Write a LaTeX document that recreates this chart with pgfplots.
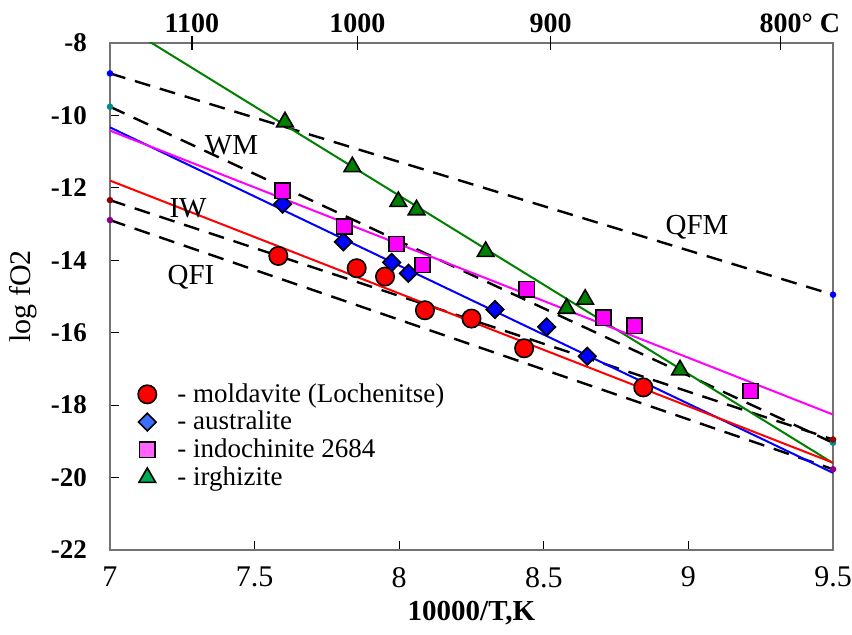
\documentclass[border=0pt]{standalone}
\usepackage{pgfplots}
\pgfplotsset{compat=1.18}
\usepackage{fontspec}
\setmainfont{Liberation Serif}
\definecolor{fitgreen}{RGB}{0,128,0}
\definecolor{fullmag}{RGB}{255,0,255}
\definecolor{fullblue}{RGB}{0,0,255}
\definecolor{fullred}{RGB}{255,0,0}
\definecolor{legblue}{RGB}{60,110,255}
\definecolor{legmag}{RGB}{255,100,255}
\definecolor{leggreen}{RGB}{0,170,80}
\definecolor{dotteal}{RGB}{0,140,140}
\definecolor{dotred}{RGB}{140,0,0}
\definecolor{dotpurple}{RGB}{140,0,140}
\begin{document}
\begin{tikzpicture}
\useasboundingbox (-55pt,-42.5pt) rectangle (371pt,275pt);
\begin{axis}[
  scale only axis, width=361.5pt, height=253.5pt,
  xmin=7, xmax=9.5, ymin=-22, ymax=-8,
  xtick={7,7.5,8,8.5,9,9.5}, xticklabels={7,7.5,8,8.5,9,9.5},
  ytick={-22,-20,-18,-16,-14,-12,-10,-8},
  yticklabels={-22,-20,-18,-16,-14,-12,-10,-8},
  xtick pos=bottom, ytick pos=left, tick align=inside,
  major tick length=4.5pt,
  tick style={black, line width=0.6pt},
  axis line style={black!55, line width=0.9pt},
  xticklabel style={font=\fontsize{15}{16}\selectfont, yshift=-5pt},
  yticklabel style={font=\bfseries\fontsize{13.5}{14}\selectfont, xshift=-8pt},
  xlabel={\textbf{10000/T,K}}, xlabel style={font=\fontsize{14.5}{16}\selectfont},
  ylabel={log fO2}, ylabel style={font=\fontsize{15}{16}\selectfont},
  legend style={at={(0.03,0.345)}, anchor=north west, draw=none, fill=none,
    font=\fontsize{13.5}{15}\selectfont, row sep=-1pt},
  legend cell align=left,
]
% legend entries
\addlegendimage{only marks, mark=*, mark size=4.6pt, mark options={fill=fullred, draw=black, line width=0.8pt}}
\addlegendentry{\hspace{8.5pt}- moldavite (Lochenitse)}
\addlegendimage{only marks, mark=square*, mark size=3.1pt, mark options={rotate=45, fill=legblue, draw=black, line width=0.8pt}}
\addlegendentry{\hspace{8.5pt}- australite}
\addlegendimage{only marks, mark=square*, mark size=3.8pt, mark options={fill=legmag, draw=black, line width=0.8pt}}
\addlegendentry{\hspace{8.5pt}- indochinite 2684}
\addlegendimage{only marks, mark=triangle*, mark size=4.8pt, mark options={fill=leggreen, draw=black, line width=0.8pt}}
\addlegendentry{\hspace{8.5pt}- irghizite}

% buffer lines (dashed)
\addplot[forget plot, black, line width=1.2pt, dash pattern=on 8pt off 5pt, mark=*, mark size=1pt, mark options={solid, fullblue, draw=fullblue}] coordinates {(7,-8.84) (9.5,-14.95)};
\addplot[forget plot, black, line width=1.2pt, dash pattern=on 8pt off 5pt, mark=*, mark size=1pt, mark options={solid, dotteal, draw=dotteal}] coordinates {(7,-9.76) (9.5,-19.04)};
\addplot[forget plot, black, line width=1.2pt, dash pattern=on 8pt off 5pt, mark=*, mark size=1pt, mark options={solid, dotred, draw=dotred}] coordinates {(7,-12.34) (9.5,-18.95)};
\addplot[forget plot, black, line width=1.2pt, dash pattern=on 8pt off 5pt, mark=*, mark size=1pt, mark options={solid, dotpurple, draw=dotpurple}] coordinates {(7,-12.89) (9.5,-19.77)};

% fit lines
\addplot[forget plot, fitgreen, line width=1pt] coordinates {(7,-7.29) (9.5,-19.60)};
\addplot[forget plot, fullblue, line width=1pt] coordinates {(7,-10.33) (9.5,-19.87)};
\addplot[forget plot, fullmag, line width=1pt] coordinates {(7,-10.42) (9.5,-18.26)};
\addplot[forget plot, fullred, line width=1pt] coordinates {(7,-11.80) (9.5,-19.59)};

% data points
\addplot[forget plot, only marks, mark=*, mark size=4.6pt, mark options={fill=fullred, draw=black, line width=0.8pt}] coordinates {
(7.582,-13.88) (7.853,-14.22) (7.951,-14.45) (8.089,-15.38) (8.250,-15.61) (8.432,-16.43) (8.844,-17.51)};
\addplot[forget plot, only marks, mark=square*, mark size=3.1pt, mark options={rotate=45, fill=fullblue, draw=black, line width=0.8pt}] coordinates {
(7.597,-12.45) (7.807,-13.49) (7.974,-14.06) (8.032,-14.36) (8.331,-15.36) (8.510,-15.84) (8.650,-16.65)};
\addplot[forget plot, only marks, mark=square*, mark size=3.8pt, mark options={fill=fullmag, draw=black, line width=0.8pt}] coordinates {
(7.597,-12.08) (7.810,-13.07) (7.991,-13.55) (8.081,-14.13) (8.441,-14.80) (8.706,-15.59) (8.813,-15.81) (9.215,-17.61)};
\addplot[forget plot, only marks, mark=triangle*, mark size=4.8pt, mark options={fill=fitgreen, draw=black, line width=0.8pt}] coordinates {
(7.605,-10.18) (7.838,-11.42) (7.997,-12.38) (8.060,-12.61) (8.299,-13.76) (8.579,-15.33) (8.643,-15.08) (8.971,-17.03)};

% labels
\node[font=\fontsize{14.5}{16}\selectfont] at (axis cs:7.42,-10.82) {WM};
\node[font=\fontsize{14.5}{16}\selectfont] at (axis cs:7.27,-12.55) {IW};
\node[font=\fontsize{14.5}{16}\selectfont] at (axis cs:7.28,-14.46) {QFI};
\node[font=\fontsize{14.5}{16}\selectfont] at (axis cs:9.03,-13.08) {QFM};
\end{axis}
\begin{axis}[
  scale only axis, width=361.5pt, height=253.5pt,
  xmin=7, xmax=9.5, ymin=-22, ymax=-8,
  axis x line*=top, axis y line=none,
  x axis line style={draw=none},
  xtick={7.283,7.855,8.524,9.319},
  xticklabels={1100,1000,900,800\rlap{° C}},
  tick align=center, major tick length=7pt,
  tick style={black, line width=0.7pt},
  xticklabel style={font=\bfseries\fontsize{14}{15}\selectfont, yshift=-2pt},
]
\addplot[draw=none, forget plot] coordinates {(7,-22)};
\end{axis}
\end{tikzpicture}
\end{document}
